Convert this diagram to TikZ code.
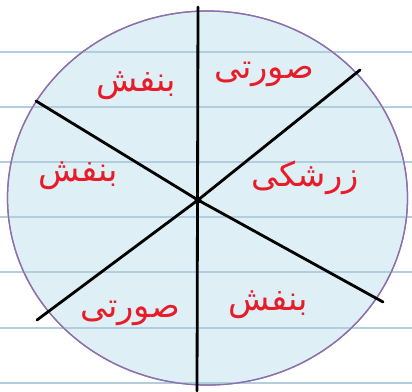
\documentclass[tikz,border=0pt]{standalone}
\usepackage{fontspec}
\newfontfamily\arabicfont[Script=Arabic]{DejaVu Sans}
\TeXXeTstate=1
\usetikzlibrary{positioning}

\definecolor{ruleblue}{RGB}{178,206,222}
\definecolor{diskfill}{RGB}{222,239,246}
\definecolor{diskedge}{RGB}{140,112,172}
\definecolor{inkred}{RGB}{232,28,40}

\begin{document}
\begin{tikzpicture}[
    x=0.025cm, y=-0.025cm,
    rule/.style={ruleblue, line width=0.8pt},
    disk/.style={draw=diskedge, fill=diskfill, line width=0.9pt},
    spoke/.style={black, line width=2pt, line cap=round},
    word/.style={inkred, font=\arabicfont\fontsize{24}{26}\selectfont, inner sep=0pt}
]

% White paper with ruled lines
\path [fill=white] (0,0) rectangle (412,391);
\useasboundingbox (0,0) rectangle (412,391);
\foreach \yy in {52,107,162,217,272,328,383} {
    \draw[rule] (0,\yy) -- (412,\yy);
}

% Disk
\draw[disk] (207.5,198) ellipse [x radius=200, y radius=187];
\begin{scope}
    \clip (207.5,198) ellipse [x radius=200, y radius=187];
    \foreach \yy in {52,107,162,217,272,328,383} {
        \draw[rule] (0,\yy) -- (412,\yy);
    }
\end{scope}
\draw[diskedge, line width=0.9pt] (207.5,198) ellipse [x radius=200, y radius=187];

% Spokes through the centre
\coordinate (c) at (198,200);
\coordinate (top) at (198,7);
\coordinate (bot) at (197,391);
\coordinate (nw) at (36,101);
\coordinate (se) at (383,302);
\coordinate (ne) at (360,70);
\coordinate (sw) at (37,320);

\draw[spoke] (top) -- (bot);
\draw[spoke] (nw) -- (c) -- (se);
\draw[spoke] (ne) -- (c) -- (sw);
\fill[black] (c) circle [radius=3.5];

% Sector labels
\node[word] (w_nw) at (136,86) {\beginR بنفش\endR};
\node[word] (w_ne) at (264,74) {\beginR صورتی\endR};
\node[word] (w_e) at (305,178) {\beginR زرشکی\endR};
\node[word] (w_w) at (78,176) {\beginR بنفش\endR};
\node[word] (w_sw) at (130,313) {\beginR صورتی\endR};
\node[word] (w_se) at (268,305) {\beginR بنفش\endR};

\end{tikzpicture}
\end{document}
